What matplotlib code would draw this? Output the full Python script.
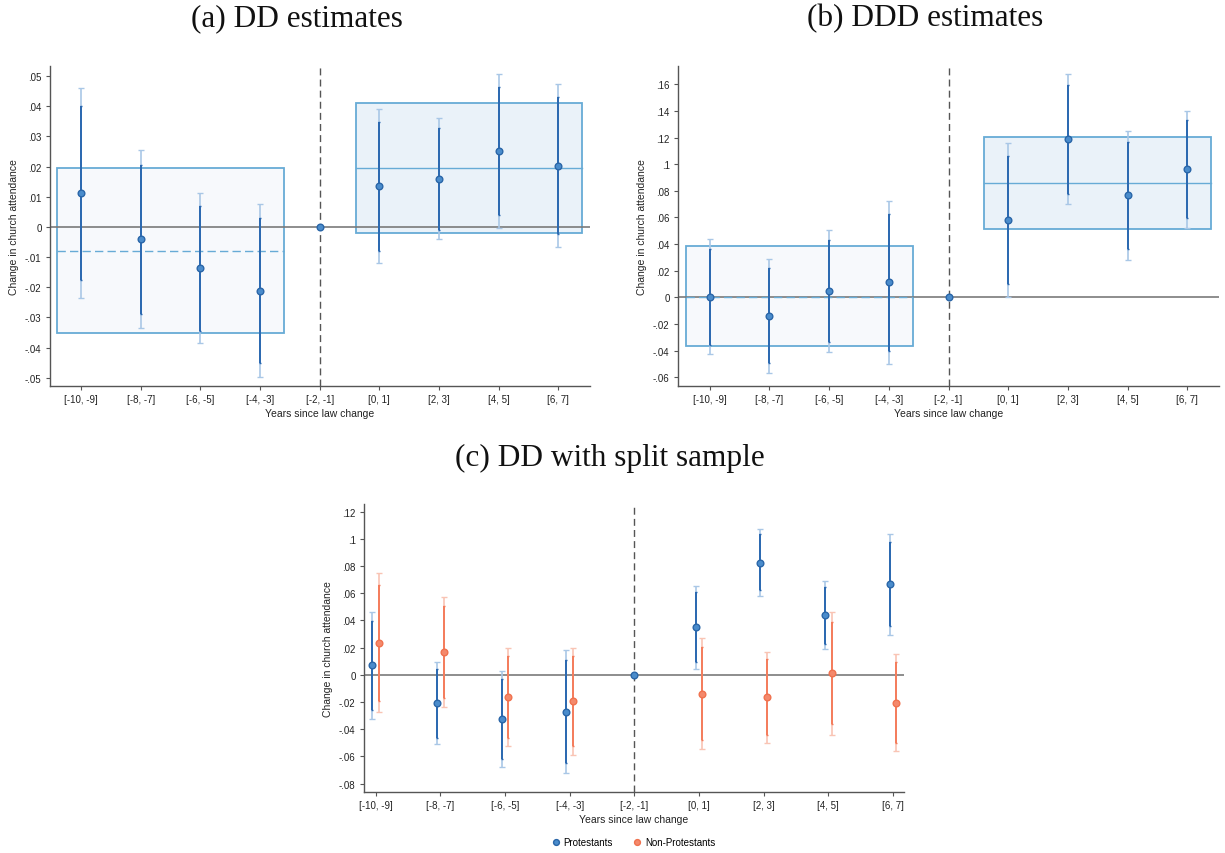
import matplotlib
matplotlib.use("Agg")
import matplotlib.pyplot as plt
from matplotlib.patches import Rectangle
from matplotlib.ticker import FuncFormatter
import numpy as np

plt.rcParams['font.family'] = ['Liberation Sans', 'DejaVu Sans']

periods = ["[-10, -9]", "[-8, -7]", "[-6, -5]", "[-4, -3]", "[-2, -1]",
           "[0, 1]", "[2, 3]", "[4, 5]", "[6, 7]"]

# Panel (a): DD estimates
a_coef = [0.0112, -0.0041, -0.0137, -0.0211, 0.0, 0.0134, 0.0160, 0.0250, 0.0203]
a_lo95 = [-0.0235, -0.0336, -0.0385, -0.0498, 0.0, -0.0120, -0.0041, -0.0002, -0.0067]
a_hi95 = [0.0460, 0.0255, 0.0111, 0.0075, 0.0, 0.0389, 0.0361, 0.0505, 0.0473]
a_lo90 = [-0.0177, -0.0287, -0.0344, -0.0451, 0.0, -0.0080, -0.0009, 0.0039, -0.0022]
a_hi90 = [0.0402, 0.0205, 0.0070, 0.0028, 0.0, 0.0347, 0.0328, 0.0463, 0.0430]
a_pre_box = [-0.0351, -0.0080, 0.0194]   # low, mean, high
a_post_box = [-0.0019, 0.0195, 0.0410]

# Panel (b): DDD estimates
b_coef = [0.0000, -0.0138, 0.0048, 0.0113, 0.0, 0.0581, 0.1187, 0.0766, 0.0964]
b_lo95 = [-0.0428, -0.0566, -0.0410, -0.0498, 0.0, 0.0005, 0.0698, 0.0283, 0.0523]
b_hi95 = [0.0436, 0.0288, 0.0503, 0.0720, 0.0, 0.1156, 0.1675, 0.1249, 0.1399]
b_lo90 = [-0.0360, -0.0496, -0.0335, -0.0400, 0.0, 0.0098, 0.0778, 0.0360, 0.0596]
b_hi90 = [0.0365, 0.0220, 0.0428, 0.0623, 0.0, 0.1061, 0.1597, 0.1166, 0.1329]
b_pre_box = [-0.0368, 0.0005, 0.0383]
b_post_box = [0.0516, 0.0861, 0.1204]

# Panel (c): split sample
p_coef = [0.0069, -0.0211, -0.0326, -0.0272, 0.0, 0.0350, 0.0825, 0.0438, 0.0666]
p_lo95 = [-0.0323, -0.0512, -0.0678, -0.0722, 0.0, 0.0044, 0.0578, 0.0186, 0.0296]
p_hi95 = [0.0463, 0.0091, 0.0027, 0.0181, 0.0, 0.0656, 0.1075, 0.0688, 0.1036]
p_lo90 = [-0.0260, -0.0463, -0.0617, -0.0649, 0.0, 0.0093, 0.0620, 0.0225, 0.0358]
p_hi90 = [0.0397, 0.0042, -0.0029, 0.0108, 0.0, 0.0607, 0.1034, 0.0644, 0.0975]

n_periods = [0, 1, 2, 3, 5, 6, 7, 8]
n_coef = [0.0235, 0.0167, -0.0167, -0.0196, -0.0140, -0.0167, 0.0010, -0.0206]
n_lo95 = [-0.0274, -0.0238, -0.0524, -0.0588, -0.0544, -0.0502, -0.0441, -0.0561]
n_hi95 = [0.0745, 0.0573, 0.0196, 0.0198, 0.0269, 0.0169, 0.0460, 0.0152]
n_lo90 = [-0.0193, -0.0171, -0.0465, -0.0524, -0.0478, -0.0446, -0.0365, -0.0502]
n_hi90 = [0.0661, 0.0505, 0.0137, 0.0135, 0.0203, 0.0115, 0.0387, 0.0093]

BLUE_PT = "#4a8ccc"
BLUE_EDGE = "#2a66a8"
BLUE_90 = "#2a68b0"
BLUE_95 = "#a9c7e6"
OR_PT = "#f4896c"
OR_EDGE = "#f0724f"
OR_90 = "#f47c5c"
OR_95 = "#f9c4b4"
BOX_EDGE = "#67abd6"

W, H = 1225, 854
fig = plt.figure(figsize=(W / 100, H / 100), dpi=100)


def add_ax(l, r, t, b):
    return fig.add_axes([l / W, 1 - b / H, (r - l) / W, (b - t) / H])


def fmt(v, pos):
    if abs(v) < 1e-9:
        return "0"
    s = ("%.2f" % v).rstrip("0")
    s = s.replace("0.", ".")
    return s


def style(ax, ylim, yticks, xlim):
    ax.set_xlim(*xlim)
    ax.set_ylim(*ylim)
    ax.set_yticks(yticks)
    ax.yaxis.set_major_formatter(FuncFormatter(fmt))
    ax.set_xticks(range(len(periods)))
    ax.set_xticklabels(periods)
    for s in ["top", "right"]:
        ax.spines[s].set_visible(False)
    for s in ["left", "bottom"]:
        ax.spines[s].set_color("#555555")
        ax.spines[s].set_linewidth(1.0)
    ax.tick_params(axis="both", labelsize=7, length=3, width=0.8,
                   color="#555555", labelcolor="#222222", pad=3)
    ax.set_xlabel("Years since law change", fontsize=7.5, labelpad=3,
                  color="#222222")
    ax.set_ylabel("Change in church attendance", fontsize=7.5, labelpad=4,
                  color="#222222")
    ax.axhline(0, color="#7a7a7a", lw=1.2, zorder=2.5)
    ax.axvline(4, color="#555555", lw=1.0, ls=(0, (5, 3)), zorder=2.5)


def draw_series(ax, xs, coef, lo95, hi95, lo90, hi90, c95, c90, cpt, cedge):
    xs = np.asarray(xs, dtype=float)
    coef = np.asarray(coef)
    ax.errorbar(xs, coef, yerr=[coef - np.asarray(lo95), np.asarray(hi95) - coef],
                fmt="none", ecolor=c95, elinewidth=1.2, capsize=2.2,
                capthick=1.0, zorder=3)
    ax.errorbar(xs, coef, yerr=[coef - np.asarray(lo90), np.asarray(hi90) - coef],
                fmt="none", ecolor=c90, elinewidth=1.4, capsize=0.8,
                capthick=1.0, zorder=4)
    ax.plot(xs, coef, "o", ms=4.8, mfc=cpt, mec=cedge, mew=1.0, zorder=5,
            linestyle="none")


def draw_boxes(ax, pre, post):
    ax.add_patch(Rectangle((-0.4, pre[0]), 3.8, pre[2] - pre[0],
                           facecolor="#f7f9fc", edgecolor=BOX_EDGE, lw=1.3,
                           zorder=2))
    ax.plot([-0.4, 3.4], [pre[1], pre[1]], color=BOX_EDGE, lw=1.0,
            ls=(0, (6, 3)), zorder=2.6)
    ax.add_patch(Rectangle((4.6, post[0]), 3.8, post[2] - post[0],
                           facecolor="#eaf2f9", edgecolor=BOX_EDGE, lw=1.3,
                           zorder=2))
    ax.plot([4.6, 8.4], [post[1], post[1]], color=BOX_EDGE, lw=1.0, zorder=2.6)


x_all = list(range(len(periods)))

# (a)
ax_a = add_ax(50, 590, 67, 387)
style(ax_a, (-0.0527, 0.0533), np.round(np.arange(-0.05, 0.0501, 0.01), 2),
      (-0.52, 8.53))
draw_boxes(ax_a, a_pre_box, a_post_box)
draw_series(ax_a, x_all, a_coef, a_lo95, a_hi95, a_lo90, a_hi90,
            BLUE_95, BLUE_90, BLUE_PT, BLUE_EDGE)

# (b)
ax_b = add_ax(678, 1219, 67, 387)
style(ax_b, (-0.0666, 0.1737), np.round(np.arange(-0.06, 0.1601, 0.02), 2),
      (-0.53, 8.53))
draw_boxes(ax_b, b_pre_box, b_post_box)
draw_series(ax_b, x_all, b_coef, b_lo95, b_hi95, b_lo90, b_hi90,
            BLUE_95, BLUE_90, BLUE_PT, BLUE_EDGE)

# (c)
ax_c = add_ax(364, 904, 505, 793)
style(ax_c, (-0.0862, 0.1256), np.round(np.arange(-0.08, 0.1201, 0.02), 2),
      (-0.18, 8.17))
p_x = [x - 0.05 if x != 4 else x for x in x_all]
n_x = [x + 0.05 for x in n_periods]
draw_series(ax_c, n_x, n_coef, n_lo95, n_hi95, n_lo90, n_hi90,
            OR_95, OR_90, OR_PT, OR_EDGE)
draw_series(ax_c, p_x, p_coef, p_lo95, p_hi95, p_lo90, p_hi90,
            BLUE_95, BLUE_90, BLUE_PT, BLUE_EDGE)

h1 = plt.Line2D([], [], marker="o", ls="none", ms=4.2, mfc=BLUE_PT, mec=BLUE_EDGE)
h2 = plt.Line2D([], [], marker="o", ls="none", ms=4.2, mfc=OR_PT, mec=OR_EDGE)
fig.legend([h1, h2], ["Protestants", "Non-Protestants"], ncol=2,
           loc="center", bbox_to_anchor=(633 / W, 1 - 843 / H), frameon=False,
           fontsize=7, handletextpad=0.3, columnspacing=2.0, handlelength=1.0)

tfont = dict(family=["Liberation Serif", "DejaVu Serif"], fontsize=22.5,
             color="#111111", ha="center", va="center")
fig.text(297 / W, 1 - 19 / H, "(a) DD estimates", **tfont)
fig.text(925 / W, 1 - 19 / H, "(b) DDD estimates", **tfont)
fig.text(610 / W, 1 - 458 / H, "(c) DD with split sample", **tfont)

fig.savefig("out.png", dpi=100)
